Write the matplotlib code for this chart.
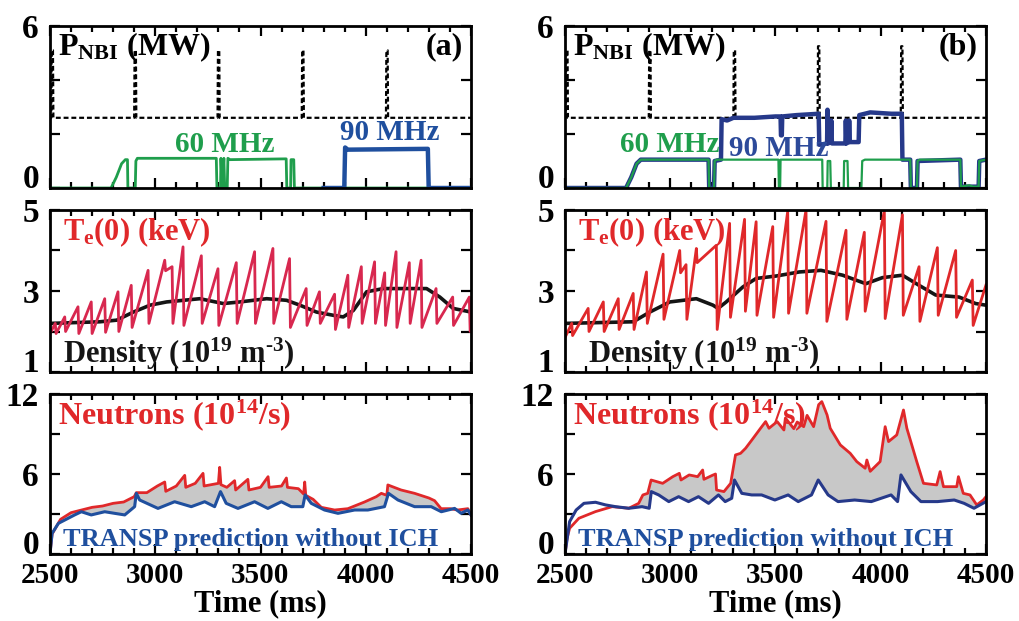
import numpy as np
import matplotlib
matplotlib.use('Agg')
import matplotlib.pyplot as plt
from matplotlib.ticker import MultipleLocator

plt.rcParams['font.family'] = 'Liberation Serif'
plt.rcParams['font.weight'] = 'bold'
plt.rcParams['mathtext.fontset'] = 'custom'
plt.rcParams['mathtext.rm'] = 'Liberation Serif:bold'
plt.rcParams['mathtext.it'] = 'Liberation Serif:bold'
plt.rcParams['mathtext.bf'] = 'Liberation Serif:bold'

# ---- data (time in ms) ----
# NBI power: baseline with short notches/pulses
nbi_base = 2.6
nbi_a_pulse_t = [2506, 2900, 3296, 3696, 4096]
nbi_a_pulse_v = [5.1, 5.1, 5.1, 5.1, 5.1]
nbi_b_pulse_t = [2504, 2898, 3300, 3700, 4095]
nbi_b_pulse_v = [5.1, 5.1, 5.1, 5.25, 5.25]

# ICH 60 MHz / 90 MHz power (MW)
rf60_a_t = [2500, 2790, 2815, 2840, 2858, 2868, 2870, 2905, 2908, 2915, 3290, 3293, 3310, 3312, 3318,
            3326, 3330, 3342, 3345, 3355, 3622, 3625, 3643, 3645, 3658, 3661, 4300]
rf60_a_v = [0, 0, 0.4, 0.9, 1.05, 1.05, 0, 0, 1.0, 1.1, 1.1, 0, 0, 1.1, 0,
            1.1, 0, 0, 1.1, 1.05, 1.08, 0, 0, 1.05, 1.05, 0, 0]
rf90_a_t = [3800, 3898, 3902, 3915, 4295, 4299, 4500]
rf90_a_v = [0, 0, 1.5, 1.42, 1.45, 0, 0]

rf60_b_t = [2500, 2790, 2815, 2840, 2860, 3182, 3185, 3208, 3211, 3220, 3514, 3516, 3522, 3524,
            3722, 3724, 3746, 3748, 3760, 3763, 3824, 3826, 3842, 3845, 3908, 3912, 3925,
            4140, 4143, 4172, 4175, 4185, 4378, 4381, 4420, 4440, 4465, 4468, 4500]
rf60_b_v = [0, 0, 0.4, 0.9, 1.05, 1.05, 0, 0, 1.0, 1.05, 1.05, 0, 0, 1.05,
            1.05, 0, 0, 1.0, 1.0, 0, 0, 1.0, 1.0, 0, 0, 1.0, 1.05,
            1.05, 0, 0, 1.0, 1.05, 1.05, 0.05, 0.1, 0.05, 0.05, 1.0, 1.05]
rf90_b_t = [2500, 2790, 2815, 2840, 2860, 3182, 3185, 3208, 3211, 3241, 3244, 3270, 3300, 3400,
            3500, 3524, 3526, 3530, 3532, 3600, 3705, 3708, 3745, 3747, 3750, 3762, 3765, 3768,
            3832, 3834, 3837, 3848, 3850, 3853, 3895, 3898, 3950, 4050, 4100, 4103, 4140, 4143,
            4172, 4175, 4378, 4381, 4465, 4468, 4500]
rf90_b_v = [0, 0, 0.4, 0.9, 1.05, 1.05, 0, 0, 1.0, 1.05, 2.55, 2.5, 2.6, 2.6,
            2.65, 2.65, 1.95, 1.95, 2.65, 2.7, 2.75, 1.6, 1.65, 2.9, 1.65, 1.7, 2.5, 1.65,
            1.65, 2.5, 1.65, 1.7, 2.5, 1.7, 1.7, 2.7, 2.8, 2.75, 2.75, 1.05, 1.05, 0,
            0, 1.0, 1.05, 0.05, 0.05, 1.0, 1.05]

# Te(0) sawteeth: crash times, values before and after each crash (keV)
te_a_start = 1.95
te_a_t = [2525, 2570, 2633, 2696, 2760, 2823, 2886, 2966, 3045, 3080, 3132, 3219, 3298, 3385, 3472,
          3559, 3638, 3717, 3780, 3852, 3915, 3979, 4042, 4090, 4144, 4207, 4263, 4334, 4413, 4492]
te_a_pk = [2.2, 2.36, 2.61, 2.73, 2.81, 2.98, 3.14, 3.51, 3.76, 3.6, 4.09, 3.87, 3.55, 3.7, 3.97,
           4.05, 3.8, 3.06, 2.98, 2.92, 3.39, 3.6, 3.72, 3.45, 3.97, 3.7, 3.76, 3.06, 2.85, 2.85]
te_a_tr = [1.95, 2.0, 1.95, 1.95, 1.98, 2.0, 2.1, 2.2, 3.5, 2.2, 2.15, 2.2, 2.15, 2.2, 2.2,
           2.2, 2.1, 2.15, 2.2, 2.05, 2.1, 2.2, 2.2, 2.15, 2.1, 2.2, 2.1, 2.2, 2.15, 2.0]
te_a_end = 2.0

te_b_start = 1.85
te_b_t = [2532, 2610, 2682, 2753, 2824, 2887, 2966, 3045, 3075, 3124, 3219, 3282, 3353, 3408,
          3487, 3558, 3645, 3740, 3835, 3922, 4017, 4103, 4182, 4269, 4356, 4435]
te_b_pk = [2.2, 2.57, 2.73, 2.81, 2.94, 3.47, 3.91, 4.0, 3.65, 4.05, 4.13, 4.67, 4.77, 4.71,
           4.59, 4.97, 5.0, 4.72, 4.5, 4.45, 4.98, 4.88, 3.6, 4.07, 4.0, 3.27]
te_b_tr = [1.9, 2.0, 2.0, 2.05, 2.05, 2.2, 2.3, 3.45, 2.3, 3.7, 2.05, 2.35, 2.5, 2.4,
           2.35, 2.45, 2.45, 2.25, 2.3, 2.5, 2.32, 2.4, 2.25, 2.4, 2.35, 2.15]
te_b_end = 3.15

# line density (10^19 m^-3)
ne_a_t = [2500, 2737, 2817, 2896, 2975, 3054, 3212, 3323, 3402, 3529, 3624, 3687, 3766, 3846,
          3893, 3941, 4004, 4083, 4162, 4289, 4352, 4415, 4500]
ne_a_v = [2.2, 2.24, 2.28, 2.48, 2.65, 2.73, 2.81, 2.69, 2.73, 2.81, 2.77, 2.65, 2.48, 2.4,
          2.36, 2.52, 2.98, 3.06, 3.06, 3.06, 2.85, 2.57, 2.48]
ne_b_t = [2500, 2824, 2903, 2998, 3124, 3203, 3227, 3266, 3345, 3408, 3503, 3613, 3716, 3819,
          3929, 4008, 4103, 4182, 4261, 4372, 4451, 4500]
ne_b_v = [2.2, 2.24, 2.48, 2.73, 2.81, 2.65, 2.57, 2.73, 3.1, 3.31, 3.37, 3.47, 3.51, 3.39,
          3.18, 3.33, 3.39, 3.14, 2.9, 2.85, 2.69, 2.65]

# neutron rate (10^14/s), measured and TRANSP
nr_a_t = [2500, 2510, 2550, 2600, 2650, 2700, 2750, 2800, 2850, 2900, 2910, 2960, 3010, 3045, 3050,
          3100, 3140, 3145, 3190, 3227, 3232, 3300, 3306, 3312, 3340, 3377, 3382, 3440, 3445, 3500,
          3536, 3541, 3600, 3623, 3628, 3680, 3705, 3710, 3715, 3750, 3789, 3852, 3915, 3994, 4050,
          4074, 4100, 4105, 4168, 4232, 4300, 4327, 4358, 4400, 4437, 4485, 4500]
nr_a_v = [0, 1.5, 2.6, 3.1, 3.3, 3.5, 3.6, 3.8, 3.9, 4.3, 4.6, 4.6, 5.1, 5.4, 4.7,
          5.1, 5.9, 5.0, 5.3, 6.05, 5.1, 5.3, 6.5, 5.2, 5.0, 5.5, 4.8, 5.6, 4.8, 5.0,
          5.8, 5.0, 5.1, 5.7, 5.0, 4.9, 4.5, 5.4, 4.4, 4.1, 3.5, 3.3, 3.4, 3.9, 4.3,
          4.55, 4.4, 5.18, 4.8, 4.55, 4.2, 4.0, 3.4, 3.4, 3.3, 3.4, 2.9]
tr_a_t = [2500, 2510, 2540, 2617, 2649, 2696, 2760, 2807, 2855, 2902, 2910, 2926, 3013, 3092, 3171,
          3235, 3282, 3310, 3337, 3393, 3472, 3535, 3599, 3646, 3701, 3712, 3741, 3804, 3868, 3947,
          4010, 4089, 4108, 4153, 4232, 4311, 4359, 4422, 4453, 4485, 4500]
tr_a_v = [0, 1.55, 2.3, 2.93, 3.17, 2.93, 3.17, 3.05, 2.93, 3.55, 4.55, 4.05, 3.42, 3.92, 3.55,
          3.92, 3.55, 4.68, 3.8, 3.42, 3.92, 3.42, 3.92, 3.55, 3.55, 4.43, 3.8, 3.3, 3.05, 3.3,
          3.3, 3.55, 4.55, 4.05, 3.55, 3.55, 3.17, 3.42, 3.05, 3.3, 2.93]

nr_b_t = [2500, 2510, 2522, 2566, 2645, 2724, 2803, 2850, 2870, 2893, 2909, 2964, 3012, 3043, 3051,
          3090, 3130, 3154, 3160, 3200, 3215, 3220, 3255, 3287, 3310, 3334, 3358, 3390, 3429, 3453,
          3469, 3508, 3540, 3547, 3587, 3603, 3634, 3650, 3681, 3705, 3720, 3745, 3760, 3808, 3855,
          3886, 3926, 3934, 3950, 3997, 4021, 4037, 4076, 4108, 4124, 4171, 4203, 4266, 4282, 4298,
          4361, 4369, 4392, 4424, 4456, 4487, 4500]
nr_b_v = [0, 1.2, 1.93, 2.68, 3.18, 3.55, 3.43, 3.8, 4.43, 4.55, 5.55, 5.3, 5.8, 6.05, 5.55,
          5.93, 5.8, 6.3, 5.6, 5.9, 6.0, 4.8, 4.68, 5.3, 7.43, 7.55, 7.93, 8.6, 9.43, 9.93,
          9.43, 9.93, 9.3, 10.2, 9.4, 9.9, 9.55, 10.4, 9.55, 11.2, 11.43, 10.43, 9.43, 8.18, 7.55,
          6.93, 6.43, 7.05, 6.2, 6.93, 9.55, 8.43, 8.93, 10.8, 9.43, 6.93, 5.3, 5.18, 6.18, 5.05,
          5.05, 5.8, 4.55, 4.43, 3.68, 4.05, 4.3]
tr_b_t = [2500, 2522, 2553, 2590, 2645, 2693, 2740, 2803, 2866, 2900, 2910, 2945, 2993, 3040, 3087,
          3134, 3182, 3229, 3261, 3292, 3305, 3340, 3387, 3434, 3497, 3560, 3608, 3671, 3703, 3750,
          3797, 3876, 3955, 4049, 4080, 4096, 4143, 4191, 4270, 4349, 4396, 4443, 4500]
tr_b_v = [0, 2.43, 3.3, 3.8, 3.88, 3.68, 3.55, 3.43, 3.55, 3.43, 4.68, 4.43, 3.93, 4.3, 3.93,
          4.3, 3.8, 4.43, 3.93, 4.18, 5.55, 4.55, 4.43, 4.43, 4.05, 4.43, 3.93, 4.43, 5.55, 4.43,
          3.93, 4.05, 3.93, 4.43, 3.93, 5.93, 4.68, 3.93, 3.93, 4.05, 3.8, 3.43, 3.93]

GREEN = '#1f9e4c'
BLUE = '#1f4f9e'
NAVY = '#26398a'
RED = '#e0282a'
CRIMSON = '#d8284f'


def pulses(t_list, v_list, base, width=10):
    t, v = [2500], [base]
    for a, b in zip(t_list, v_list):
        t += [a, a + 2, a + width - 2, a + width]
        v += [base, b, b, base]
    t.append(4500)
    v.append(base)
    return t, v


def sawtooth(start, t_list, pk, tr, end):
    t, v = [2500], [start]
    for a, b, c in zip(t_list, pk, tr):
        t += [a, a + 4]
        v += [b, c]
    t.append(4500)
    v.append(end)
    return t, v


def style(ax, yticks, ylabels, show_x):
    ax.set_xlim(2500, 4500)
    ax.set_yticks(yticks)
    ax.set_yticklabels(ylabels, fontsize=24, fontweight='bold')
    ax.set_ylim(yticks[0], yticks[-1])
    # lowest label sits on its tick, as in the original
    ax.get_yticklabels()[0].set_va('baseline')
    ax.set_xticks([2500, 3000, 3500, 4000, 4500])
    ax.xaxis.set_minor_locator(MultipleLocator(100))
    ax.tick_params(which='both', direction='in', top=True, right=True, width=1.6)
    ax.tick_params(which='major', length=7)
    ax.tick_params(which='minor', length=4)
    ax.tick_params(axis='y', pad=8)
    ax.tick_params(axis='x', pad=6)
    if show_x:
        ax.set_xticklabels(['2500', '3000', '3500', '4000', '4500'], fontsize=21, fontweight='bold')
        ax.set_xlabel('Time (ms)', fontsize=22, fontweight='bold', labelpad=0)
    else:
        ax.set_xticklabels([])
    for s in ax.spines.values():
        s.set_linewidth(2)


fig = plt.figure(figsize=(10.2, 6.21), dpi=100)
lefts = [50 / 1020, 565 / 1020]
width = 421 / 1020
rows = [(1 - 188 / 621, 162 / 621), (1 - 372 / 621, 162 / 621), (1 - 554 / 621, 160 / 621)]

panels = [
    dict(tag='(a)', nbi=(nbi_a_pulse_t, nbi_a_pulse_v), rf60=(rf60_a_t, rf60_a_v), rf90=(rf90_a_t, rf90_a_v),
         te=(te_a_start, te_a_t, te_a_pk, te_a_tr, te_a_end), ne=(ne_a_t, ne_a_v), tecol=CRIMSON,
         nr=(nr_a_t, nr_a_v), tr=(tr_a_t, tr_a_v), rf90col=BLUE, lab90col=BLUE,
         lab60=(3330, 1.62), lab90=(4115, 2.05)),
    dict(tag='(b)', nbi=(nbi_b_pulse_t, nbi_b_pulse_v), rf60=(rf60_b_t, rf60_b_v), rf90=(rf90_b_t, rf90_b_v),
         te=(te_b_start, te_b_t, te_b_pk, te_b_tr, te_b_end), ne=(ne_b_t, ne_b_v), tecol=RED,
         nr=(nr_b_t, nr_b_v), tr=(tr_b_t, tr_b_v), rf90col=NAVY, lab90col='#2c4a9a',
         lab60=(3000, 1.62), lab90=(3515, 1.48)),
]

for left, p in zip(lefts, panels):
    # top: heating power
    ax1 = fig.add_axes([left, rows[0][0], width, rows[0][1]])
    t, v = pulses(*p['nbi'], nbi_base)
    ax1.plot(t, v, color='black', lw=1.6, ls=(0, (2.2, 1.3)))
    if p['tag'] == '(a)':
        ax1.plot(*p['rf60'], color=GREEN, lw=2)
        ax1.plot(*p['rf90'], color=p['rf90col'], lw=3.2)
    else:
        ax1.plot(*p['rf90'], color=p['rf90col'], lw=3.2)
        ax1.plot(*p['rf60'], color=GREEN, lw=1.6)
    ax1.text(0.02, 0.87, r'P$_{\rm NBI}$ (MW)', transform=ax1.transAxes, fontsize=23,
             va='center', ha='left')
    ax1.text(0.98, 0.87, p['tag'], transform=ax1.transAxes, fontsize=23, va='center', ha='right')
    ax1.text(*p['lab60'], '60 MHz', color=GREEN, fontsize=21, ha='center', va='center')
    ax1.text(*p['lab90'], '90 MHz', color=p['lab90col'], fontsize=21, ha='center', va='center')
    style(ax1, [0, 2, 4, 6], ['0', '', '', '6'], False)

    # middle: Te(0) and density
    ax2 = fig.add_axes([left, rows[1][0], width, rows[1][1]])
    ax2.plot(*p['ne'], color='#151515', lw=2.6)
    t, v = sawtooth(*p['te'])
    ax2.plot(t, v, color=p['tecol'], lw=2)
    ax2.text(0.03, 0.86, r'T$_{\rm e}$(0) (keV)', transform=ax2.transAxes, fontsize=22,
             color=RED, va='center', ha='left')
    ax2.text(0.03 if p['tag'] == '(a)' else 0.055, 0.11, r'Density (10$^{\rm 19}$ m$^{\text{-3}}$)',
             transform=ax2.transAxes, fontsize=22, color='#151515', va='center', ha='left')
    style(ax2, [1, 2, 3, 4, 5], ['1', '', '3', '', '5'], False)

    # bottom: neutrons
    ax3 = fig.add_axes([left, rows[2][0], width, rows[2][1]])
    nt, nv = p['nr']
    tt, tv = p['tr']
    grid = np.union1d(nt, tt)
    ri = np.interp(grid, nt, nv)
    bi = np.interp(grid, tt, tv)
    ax3.fill_between(grid, bi, ri, where=ri >= bi, interpolate=True, color='#c8c8c8', lw=0)
    ax3.plot(nt, nv, color=RED, lw=2)
    ax3.plot(tt, tv, color=BLUE if p['tag'] == '(a)' else NAVY, lw=2.2)
    ax3.text(0.02, 0.87, r'Neutrons (10$^{\rm 14}$/s)', transform=ax3.transAxes, fontsize=23,
             color=RED, va='center', ha='left')
    ax3.text(0.03, 0.09, 'TRANSP prediction without ICH', transform=ax3.transAxes, fontsize=19,
             color=BLUE, va='center', ha='left')
    style(ax3, [0, 3, 6, 9, 12], ['0', '', '6', '', '12'], True)

fig.savefig('out.png', dpi=100)
